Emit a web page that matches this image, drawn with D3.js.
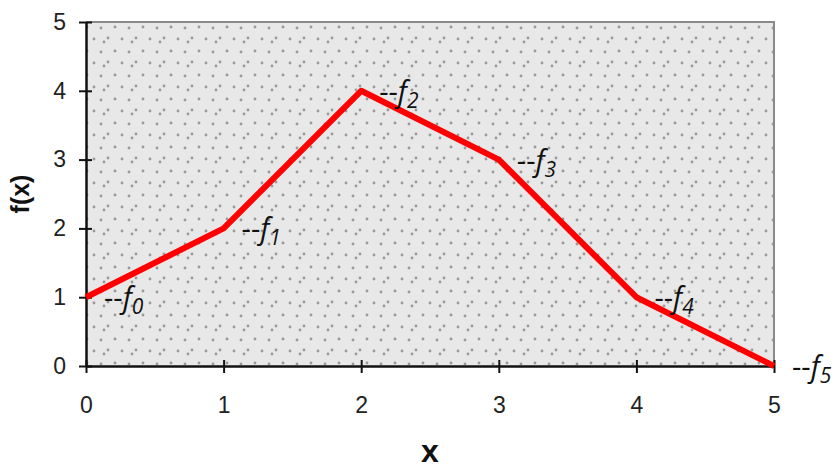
<!DOCTYPE html>
<html>
<head>
<meta charset="utf-8">
<script src="https://cdn.jsdelivr.net/npm/d3@7"></script>
<style>
  html, body { margin: 0; padding: 0; background: #fff; }
  svg { display: block; }
  .tick text { font-family: "Liberation Sans", Arial, sans-serif; font-size: 23px; fill: #222; }
</style>
</head>
<body>
<svg id="chart" width="838" height="468"></svg>
<script>
// Piecewise-linear function f(x) sampled at integer nodes
const xValues = [0, 1, 2, 3, 4, 5];
const fValues = [1, 2, 4, 3, 1, 0];
const nodeLabels = ["0", "1", "2", "3", "4", "5"];
const xTicks = [0, 1, 2, 3, 4, 5];
const yTicks = [0, 1, 2, 3, 4, 5];

const svg = d3.select("#chart");
const margin = { left: 86, right: 64, top: 22, bottom: 102 };
const W = 838, H = 468;

const x = d3.scaleLinear().domain([0, 5]).range([margin.left, W - margin.right]);
const y = d3.scaleLinear().domain([0, 5]).range([H - margin.bottom, margin.top]);

// Dotted fill for the plot area
const defs = svg.append("defs");
const pat = defs.append("pattern")
  .attr("id", "dots")
  .attr("patternUnits", "userSpaceOnUse")
  .attr("width", 28).attr("height", 24);
pat.append("rect").attr("width", 28).attr("height", 24).attr("fill", "#e8e8e8");
[[3, 3], [17, 4], [10, 15], [24, 14], [20, 18]].forEach(([cx, cy]) => {
  pat.append("circle").attr("cx", cx).attr("cy", cy).attr("r", 1.4).attr("fill", "#999");
});

svg.append("rect")
  .attr("x", x(0)).attr("y", y(5))
  .attr("width", x(5) - x(0)).attr("height", y(0) - y(5))
  .attr("fill", "url(#dots)");

// Grey frame on top and right
svg.append("path")
  .attr("d", `M${x(0)},${y(5)}H${x(5)}V${y(0)}`)
  .attr("fill", "none").attr("stroke", "#8a8a8a").attr("stroke-width", 2);

// Axes with ticks crossing the axis line
const xAxis = svg.append("g")
  .attr("transform", `translate(0,${y(0)})`)
  .call(d3.axisBottom(x).tickValues(xTicks).tickFormat(d3.format("d")).tickSize(7).tickSizeOuter(0).tickPadding(24));
xAxis.selectAll(".tick line").attr("y1", -6).attr("stroke", "#111").attr("stroke-width", 2);
xAxis.select(".domain").attr("stroke", "#111").attr("stroke-width", 2.5);

const yAxis = svg.append("g")
  .attr("transform", `translate(${x(0)},0)`)
  .call(d3.axisLeft(y).tickValues(yTicks).tickFormat(d3.format("d")).tickSize(7).tickSizeOuter(0).tickPadding(13));
yAxis.selectAll(".tick line").attr("x1", 6).attr("stroke", "#111").attr("stroke-width", 2);
yAxis.select(".domain").attr("stroke", "#111").attr("stroke-width", 2.5);

// Axis titles
svg.append("text")
  .attr("transform", `translate(29,${(y(0) + y(5)) / 2}) rotate(-90)`)
  .attr("text-anchor", "middle")
  .attr("font-family", "'Liberation Sans', Arial, sans-serif")
  .attr("font-weight", "bold").attr("font-size", 25).attr("fill", "#111")
  .text("f(x)");

svg.append("text")
  .attr("x", (x(0) + x(5)) / 2).attr("y", 462)
  .attr("text-anchor", "middle")
  .attr("font-family", "'Liberation Sans', Arial, sans-serif")
  .attr("font-weight", "bold").attr("font-size", 32).attr("fill", "#111")
  .text("x");

// The function line
const pts = xValues.map((d, i) => [d, fValues[i]]);
svg.append("path")
  .datum(pts)
  .attr("fill", "none")
  .attr("stroke", "#ff0000")
  .attr("stroke-width", 6)
  .attr("stroke-linejoin", "round")
  .attr("d", d3.line().x(d => x(d[0])).y(d => y(d[1])));

// Node labels "--f_i"
const lab = svg.append("g")
  .attr("font-family", "'Open Sans', 'Noto Sans', sans-serif")
  .attr("fill", "#111");
pts.forEach((p, i) => {
  const t = lab.append("text")
    .attr("x", x(p[0]) + 18)
    .attr("y", y(p[1]) + 11)
    .attr("font-size", 29);
  t.append("tspan").text("--");
  t.append("tspan").attr("font-style", "italic").text("f");
  t.append("tspan").attr("font-style", "italic").attr("font-size", 21).attr("dy", 6).text(nodeLabels[i]);
});
</script>
</body>
</html>
